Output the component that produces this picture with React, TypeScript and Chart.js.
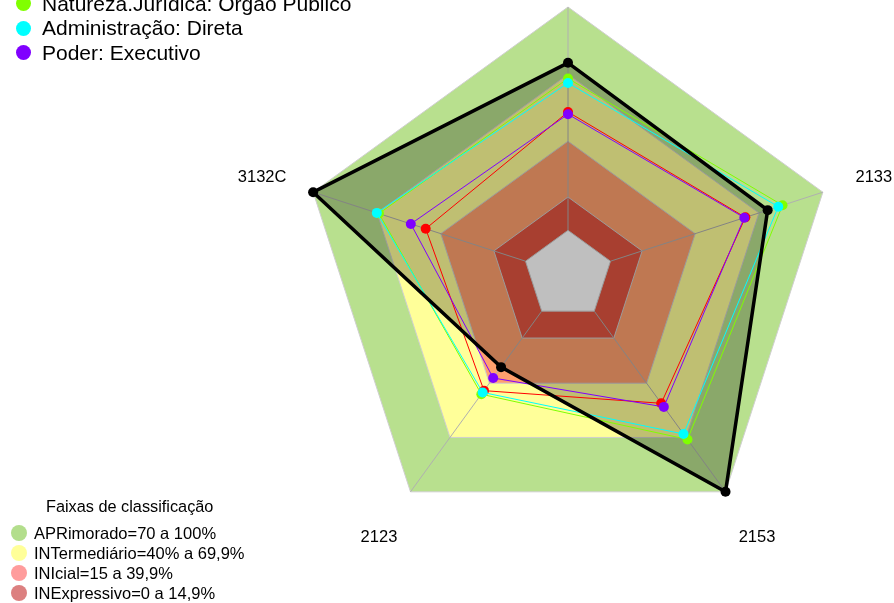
import React, { useEffect, useRef } from "react";
import { Chart, registerables } from "chart.js";

Chart.register(...registerables);

// ---- data ----
const axisLabels = ["", "2133", "2153", "2123", "3132C"];
const seriePreta = [75, 74, 100, 31, 100];
const serieVermelha = [53, 63.5, 51, 44, 47];
const natureza = [68, 81, 71, 46, 69];
const administracao = [66, 79, 68, 45, 70];
const poder = [52, 63, 53, 37, 54];

const faixaLimites = [100, 69.9, 39.9, 14.9];
const faixaCoresFundo = ["#B8E08E", "#FFFF99", "#FFA06E", "#E05540"];
const faixaNomes = [
  "APRimorado=70 a 100%",
  "INTermediário=40% a 69,9%",
  "INIcial=15 a 39,9%",
  "INExpressivo=0 a 14,9%",
];
const faixaCoresLegenda = ["#B3DE8C", "#FFFF99", "#FF9C9C", "#DC8080"];

const legendaNomes = [
  "Natureza.Jurídica: Órgão Público",
  "Administração: Direta",
  "Poder: Executivo",
];
const legendaCores = ["#80FF00", "#00FFFF", "#8000FF"];

const FONT = '"Liberation Sans", Arial, sans-serif';

export default function App() {
  const ref = useRef<HTMLCanvasElement | null>(null);

  useEffect(() => {
    if (!ref.current) return;
    const n = axisLabels.length;
    const line = (data: number[], color: string, order: number) => ({
      data,
      borderColor: color,
      backgroundColor: color,
      borderWidth: 1,
      pointRadius: 5,
      pointBorderWidth: 0,
      pointBackgroundColor: color,
      fill: false,
      order,
      clip: false,
    });
    const bands = faixaLimites.map((lim, i) => ({
      data: axisLabels.map(() => lim),
      borderColor: "#CFCFCF",
      borderWidth: 1,
      backgroundColor: faixaCoresFundo[i],
      pointRadius: 0,
      fill: "start",
      order: 100 - i,
      clip: false,
    }));
    const centro = {
      data: axisLabels.map(() => 0),
      borderColor: "#CFCFCF",
      borderWidth: 1,
      backgroundColor: "#FFFFFF",
      pointRadius: 0,
      fill: "start",
      order: 50,
      clip: false,
    };
    const pretoFill = {
      data: seriePreta,
      borderWidth: 0,
      borderColor: "rgba(0,0,0,0)",
      backgroundColor: "rgba(0,0,0,0.25)",
      pointRadius: 0,
      fill: "start",
      order: 40,
      clip: false,
    };
    const preto = {
      data: seriePreta,
      borderColor: "#000000",
      borderWidth: 3.5,
      pointRadius: 5,
      pointBorderWidth: 0,
      pointBackgroundColor: "#000000",
      fill: false,
      order: 1,
      clip: false,
    };

    const spokes = {
      id: "spokes",
      afterDatasetDraw(chart: any, args: any) {
        if (chart.data.datasets[args.index] !== centro) return;
        const s = chart.scales.r;
        const ctx = chart.ctx;
        ctx.save();
        ctx.strokeStyle = "#B0B0B0";
        ctx.lineWidth = 1;
        for (let i = 0; i < n; i++) {
          const a = s.getPointPositionForValue(i, 0);
          const b = s.getPointPositionForValue(i, 100);
          ctx.beginPath();
          ctx.moveTo(a.x, a.y);
          ctx.lineTo(b.x, b.y);
          ctx.stroke();
        }
        ctx.restore();
      },
    };
    const labelsPlugin = {
      id: "axisLabels",
      afterDraw(chart: any) {
        const s = chart.scales.r;
        const ctx = chart.ctx;
        ctx.save();
        ctx.font = `16.5px ${FONT}`;
        ctx.fillStyle = "#000";
        ctx.textAlign = "center";
        ctx.textBaseline = "middle";
        for (let i = 0; i < n; i++) {
          const p = s.getPointPosition(i, s.drawingArea * 1.2);
          ctx.fillText(chart.data.labels[i], p.x, p.y + 2);
        }
        ctx.restore();
      },
    };

    const chart = new Chart(ref.current, {
      type: "radar",
      data: {
        labels: axisLabels,
        datasets: [
          preto,
          line(poder, "#8000FF", 2),
          line(administracao, "#00FFFF", 3),
          line(natureza, "#80FF00", 4),
          line(serieVermelha, "#FF0000", 5),
          pretoFill,
          centro,
          ...bands,
        ] as any,
      },
      options: {
        responsive: false,
        maintainAspectRatio: false,
        animation: false,
        devicePixelRatio: 1,
        layout: { padding: { left: 300, top: 7, right: 58, bottom: 60 } },
        plugins: {
          legend: { display: false },
          tooltip: { enabled: false },
          title: { display: false },
        },
        elements: { line: { tension: 0 } },
        scales: {
          r: {
            min: -20,
            max: 100,
            beginAtZero: false,
            ticks: { display: false },
            grid: { display: false },
            angleLines: { display: false },
            pointLabels: { display: false },
          },
        },
      } as any,
      plugins: [spokes, labelsPlugin],
    });
    return () => chart.destroy();
  }, []);

  return (
    <div
      style={{
        position: "absolute",
        left: 0,
        top: 0,
        width: 894,
        height: 603,
        overflow: "hidden",
        background: "#fff",
        fontFamily: FONT,
      }}
    >
      <canvas ref={ref} width={894} height={603} style={{ position: "absolute", left: 0, top: 0 }} />
      {legendaNomes.map((t, i) => (
        <div key={t}>
          <div
            style={{
              position: "absolute",
              left: 16,
              top: 3.5 + i * 24.5 - 7.5,
              width: 15,
              height: 15,
              borderRadius: "50%",
              background: legendaCores[i],
            }}
          />
          <div
            style={{
              position: "absolute",
              left: 42,
              top: 3.5 + i * 24.5 - 13,
              fontSize: 21,
              lineHeight: "26px",
              whiteSpace: "nowrap",
              color: "#000",
            }}
          >
            {t}
          </div>
        </div>
      ))}
      <div
        style={{
          position: "absolute",
          left: 46,
          top: 506 - 10,
          fontSize: 16.3,
          lineHeight: "20px",
          whiteSpace: "nowrap",
        }}
      >
        Faixas de classificação
      </div>
      {faixaNomes.map((t, i) => (
        <div key={t}>
          <div
            style={{
              position: "absolute",
              left: 11,
              top: 533 + i * 20 - 8,
              width: 16,
              height: 16,
              borderRadius: "50%",
              background: faixaCoresLegenda[i],
            }}
          />
          <div
            style={{
              position: "absolute",
              left: 34,
              top: 533 + i * 20 - 10,
              fontSize: 16.5,
              lineHeight: "20px",
              whiteSpace: "nowrap",
            }}
          >
            {t}
          </div>
        </div>
      ))}
    </div>
  );
}
